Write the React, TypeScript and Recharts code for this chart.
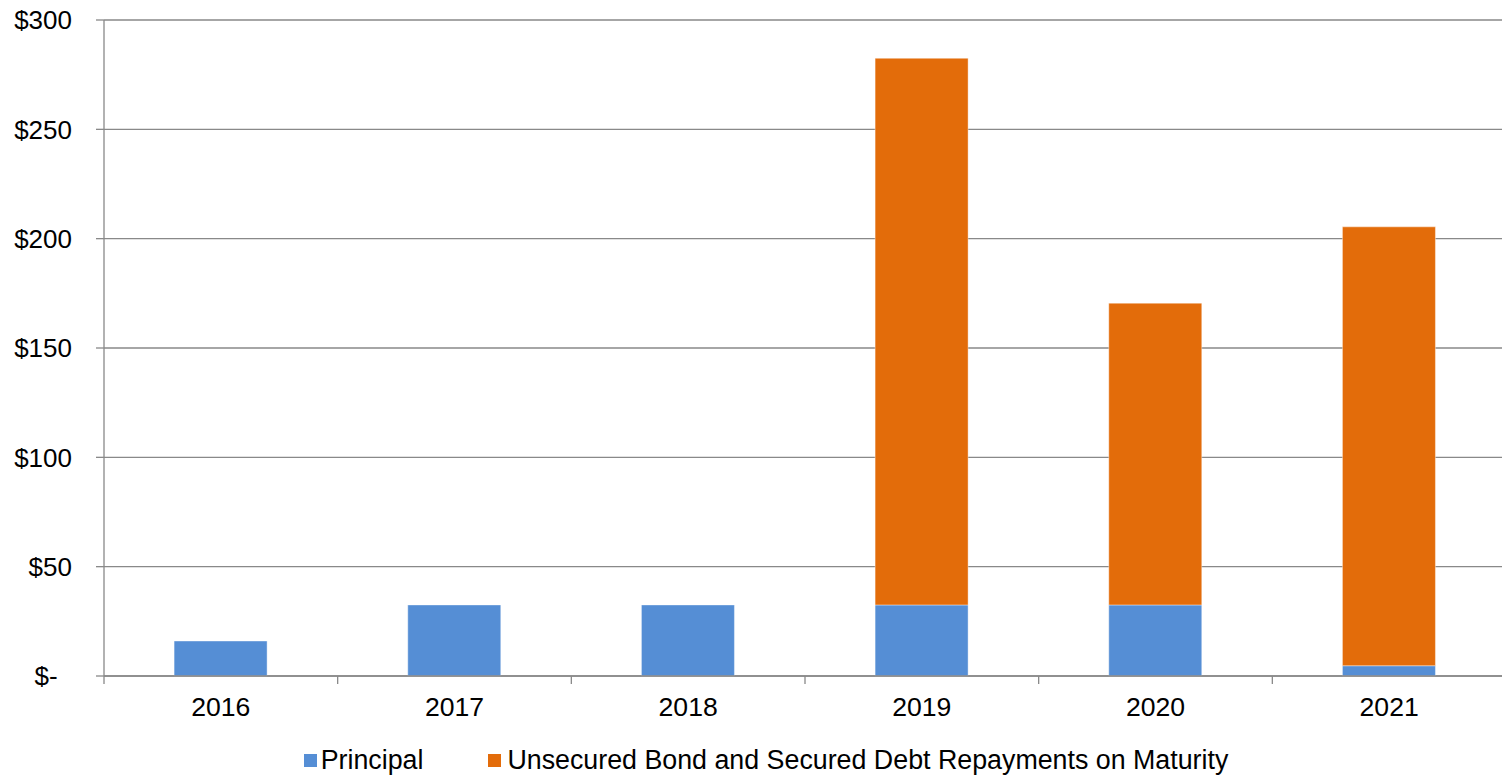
import { BarChart, Bar, XAxis, YAxis, CartesianGrid, Legend } from "recharts";

const years = ["2016", "2017", "2018", "2019", "2020", "2021"];
const principal = [16, 32.5, 32.5, 32.5, 32.5, 4.7];
const maturity = [null, null, null, 250, 138, 200.7];
const yTicks = [0, 50, 100, 150, 200, 250, 300];

const data = years.map((year, i) => ({
  year,
  principal: principal[i],
  maturity: maturity[i],
}));

const FONT = "Arial, 'Liberation Sans', sans-serif";
const GRID = "#898989";
const BLUE = "#558ED5";
const ORANGE = "#E36C0A";

// x labels plus the tick marks between categories
function YearTick(props: any) {
  const { x, y, payload, index } = props;
  const half = payload?.offset ?? 0;
  return (
    <g>
      <line x1={x + half} x2={x + half} y1={y} y2={y + 8} stroke={GRID} strokeWidth={1.3} />
      {index === 0 && (
        <line x1={x - half} x2={x - half} y1={y} y2={y + 8} stroke={GRID} strokeWidth={1.3} />
      )}
      <text x={x} y={y + 21} dy="0.71em" textAnchor="middle" fontSize={26.6} fontFamily={FONT} fill="#000">
        {payload.value}
      </text>
    </g>
  );
}

function LegendBox({ payload }: any) {
  return (
    <div
      style={{
        display: "flex",
        justifyContent: "center",
        alignItems: "center",
        height: 40,
        paddingTop: 8,
        paddingLeft: 26,
        boxSizing: "border-box",
        fontFamily: FONT,
        fontSize: 26.8,
        color: "#000",
      }}
    >
      {(payload || []).map((p: any, i: number) => (
        <div key={p.value} style={{ display: "flex", alignItems: "center", marginRight: i === 0 ? 65 : 0 }}>
          <span style={{ width: 13, height: 13, background: p.color, marginRight: i === 0 ? 4 : 6 }} />
          <span>{p.value}</span>
        </div>
      ))}
    </div>
  );
}

export default function App() {
  return (
    <div style={{ position: "absolute", left: 0, top: 0, width: 1502, height: 776, overflow: "hidden", background: "#fff" }}>
      <BarChart
        width={1506}
        height={776}
        data={data}
        margin={{ top: 20, right: 0, bottom: 0, left: 0 }}
        barCategoryGap="30%"
      >
        <CartesianGrid vertical={false} stroke={GRID} strokeWidth={1.3} />
        <XAxis
          dataKey="year"
          height={60}
          stroke={GRID}
          strokeWidth={1.3}
          tickLine={false}
          tickSize={0}
          tickMargin={0}
          tick={<YearTick />}
          interval={0}
        />
        <YAxis
          width={104}
          domain={[0, 300]}
          ticks={yTicks}
          interval={0}
          stroke={GRID}
          strokeWidth={1.3}
          tickSize={8}
          tickMargin={24}
          tick={{ fill: "#000", fontSize: 26, fontFamily: FONT }}
          tickFormatter={(v: number) => (v === 0 ? "$-\u00a0\u00a0" : `$${v}`)}
        />
        <Legend verticalAlign="bottom" content={<LegendBox />} />
        <Bar
          dataKey="principal"
          name="Principal"
          stackId="a"
          fill={BLUE}
          stroke="#ffffff"
          strokeOpacity={0.4}
          isAnimationActive={false}
        />
        <Bar
          dataKey="maturity"
          name="Unsecured Bond and Secured Debt Repayments on Maturity"
          stackId="a"
          fill={ORANGE}
          stroke="#ffffff"
          strokeOpacity={0.4}
          isAnimationActive={false}
        />
      </BarChart>
    </div>
  );
}
